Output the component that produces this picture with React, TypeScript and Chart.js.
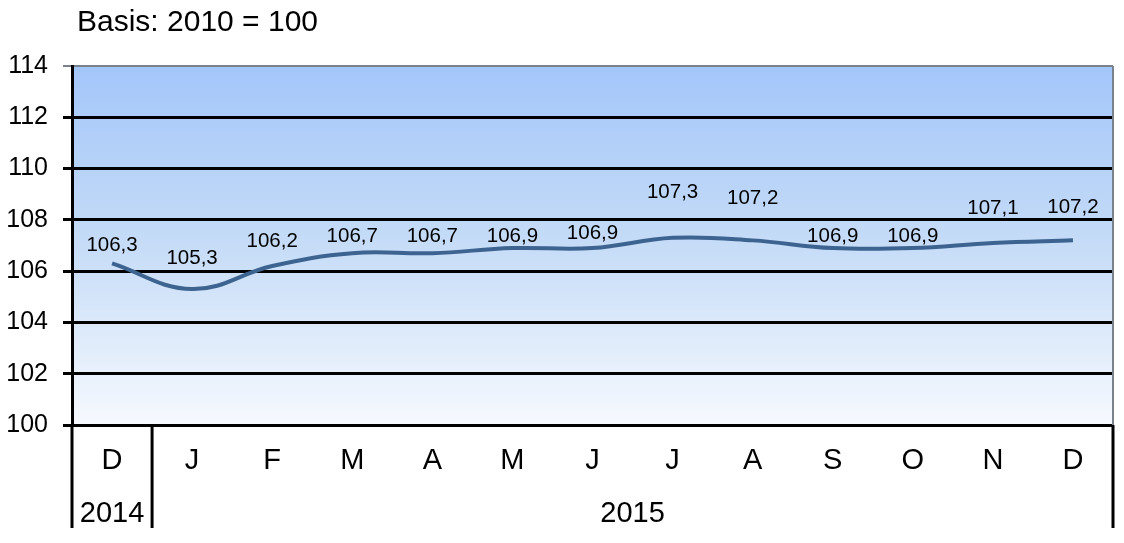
import React, { useEffect, useRef } from "react";
import { Chart, registerables } from "chart.js";

Chart.register(...registerables);

const months = ["D", "J", "F", "M", "A", "M", "J", "J", "A", "S", "O", "N", "D"];
const values = [106.3, 105.3, 106.2, 106.7, 106.7, 106.9, 106.9, 107.3, 107.2, 106.9, 106.9, 107.1, 107.2];
const yearGroups = [
  { label: "2014", from: 0, to: 0 },
  { label: "2015", from: 1, to: 12 },
];
const titleText = "Basis: 2010 = 100";
const yMin = 100;
const yMax = 114;
const yStep = 2;

// label lift above each point (pixels), styling only
const labelLift = [18, 31, 25, 17, 17, 12, 15, 45, 42, 12, 12, 35, 33];

const FONT = "'Liberation Sans', Arial, sans-serif";

const fmt = (v: number) => v.toFixed(1).replace(".", ",");

const customPlugin = {
  id: "customDecor",
  beforeDraw(chart: any) {
    const { ctx, chartArea } = chart;
    const g = ctx.createLinearGradient(0, chartArea.top, 0, chartArea.bottom);
    g.addColorStop(0, "#a3c6fa");
    g.addColorStop(0.5, "#c6dcf7");
    g.addColorStop(1, "#f6f9fe");
    ctx.save();
    ctx.fillStyle = g;
    ctx.fillRect(chartArea.left, chartArea.top, chartArea.right - chartArea.left, chartArea.bottom - chartArea.top);
    ctx.restore();
  },
  afterDraw(chart: any) {
    const { ctx, chartArea } = chart;
    const x = chart.scales.x;
    const y = chart.scales.y;
    const bottomExt = 528;
    ctx.save();
    // right border
    ctx.strokeStyle = "#7a838c";
    ctx.lineWidth = 2;
    ctx.beginPath();
    ctx.moveTo(chartArea.right, chartArea.top);
    ctx.lineTo(chartArea.right, chartArea.bottom);
    ctx.stroke();
    // vertical lines under axis
    ctx.strokeStyle = "#000";
    ctx.lineWidth = 3;
    const sep = (x.getPixelForValue(0) + x.getPixelForValue(1)) / 2;
    [chartArea.left, sep, chartArea.right].forEach((px) => {
      ctx.beginPath();
      ctx.moveTo(px, chartArea.bottom);
      ctx.lineTo(px, bottomExt);
      ctx.stroke();
    });
    // year labels
    ctx.fillStyle = "#000";
    ctx.font = `29px ${FONT}`;
    ctx.textAlign = "center";
    ctx.textBaseline = "middle";
    const half = (x.getPixelForValue(1) - x.getPixelForValue(0)) / 2;
    yearGroups.forEach((gp) => {
      const l = x.getPixelForValue(gp.from) - half;
      const r = x.getPixelForValue(gp.to) + half;
      ctx.fillText(gp.label, (l + r) / 2, 514);
    });
    // title
    ctx.textAlign = "left";
    ctx.font = `30px ${FONT}`;
    ctx.fillText(titleText, 77, 23);
    // data labels
    ctx.font = `20.5px ${FONT}`;
    ctx.textAlign = "center";
    values.forEach((v, i) => {
      const px = x.getPixelForValue(i);
      const py = y.getPixelForValue(v);
      ctx.fillText(fmt(v), px, py - labelLift[i]);
    });
    ctx.restore();
  },
};

export default function App() {
  const ref = useRef<HTMLCanvasElement>(null);
  useEffect(() => {
    document.body.style.margin = "0";
    const chart = new Chart(ref.current as HTMLCanvasElement, {
      type: "line",
      data: {
        labels: months,
        datasets: [
          {
            data: values,
            borderColor: "#3d6491",
            borderWidth: 4,
            pointRadius: 0,
            tension: 0.4,
            fill: false,
          },
        ],
      },
      options: {
        animation: false,
        responsive: true,
        maintainAspectRatio: false,
        layout: { padding: { top: 66, right: 11, left: 0, bottom: 0 } },
        plugins: { legend: { display: false }, tooltip: { enabled: false }, title: { display: false } },
        scales: {
          x: {
            offset: true,
            grid: { display: false },
            border: { display: false },
            ticks: { color: "#000", font: { size: 29, family: FONT }, padding: 11, maxRotation: 0, autoSkip: false },
            afterFit: (s: any) => {
              s.height = 118;
            },
          },
          y: {
            min: yMin,
            max: yMax,
            ticks: { stepSize: yStep, color: "#000", font: { size: 25, family: FONT }, padding: 15 },
            grid: {
              color: (c: any) => (c.tick && c.tick.value === yMax ? "#7a838c" : "#000"),
              lineWidth: (c: any) => (c.tick && c.tick.value === yMax ? 2 : 3),
              tickLength: 9,
            },
            border: { display: true, color: "#000", width: 3 },
            afterFit: (s: any) => {
              s.width = 72;
            },
          },
        },
      },
      plugins: [customPlugin],
    });
    return () => chart.destroy();
  }, []);
  return (
    <div style={{ width: 1124, height: 543, position: "relative" }}>
      <canvas ref={ref} />
    </div>
  );
}
